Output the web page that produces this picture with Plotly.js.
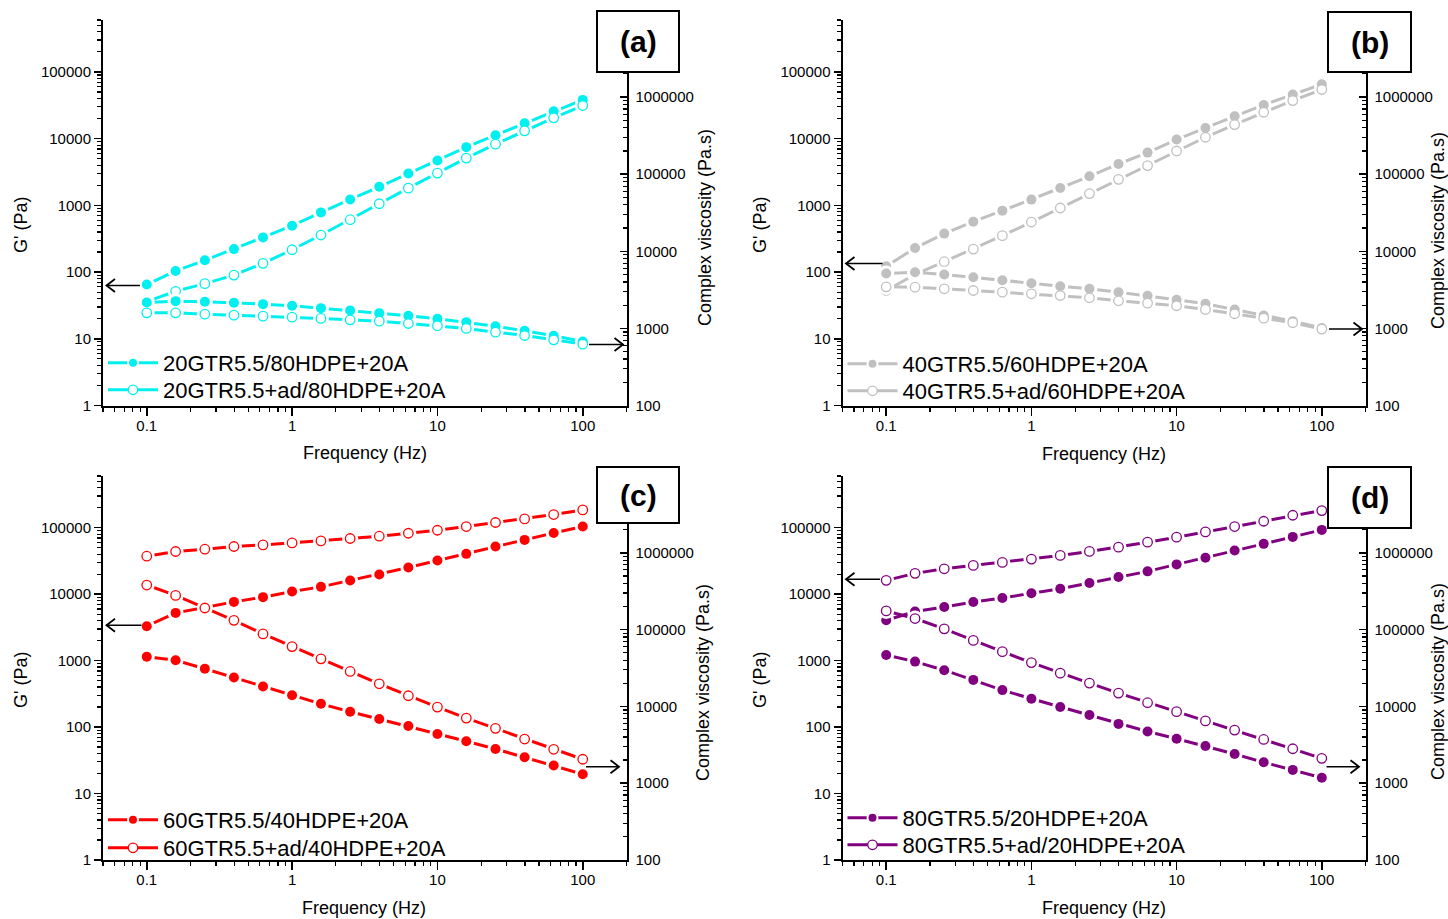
<!DOCTYPE html>
<html>
<head>
<meta charset="utf-8">
<script src="https://cdn.plot.ly/plotly-3.0.1.min.js"></script>
<style>
html,body{margin:0;padding:0;background:#fff;}
#chart{width:1448px;height:919px;}
</style>
</head>
<body>
<div id="chart"></div>
<script>
// ---------------- DATA ----------------
const freq = [0.1, 0.158, 0.251, 0.398, 0.631, 1, 1.58, 2.51, 3.98, 6.31, 10, 15.8, 25.1, 39.8, 63.1, 100];

// (a) 20GTR
const aGf = [65, 104, 150, 221, 331, 495, 784, 1227, 1898, 3006, 4707, 7452, 11270, 17050, 25780, 38100];
const aGo = [36, 51.5, 67, 90, 135, 216, 359, 609, 1057, 1812, 3041, 5104, 8262, 13090, 20480, 31330];
const aVf = [2169, 2258, 2213, 2147, 2064, 1964, 1832, 1708, 1577, 1456, 1331, 1205, 1069, 930, 802, 676];
const aVo = [1592, 1592, 1530, 1486, 1442, 1400, 1346, 1292, 1242, 1158, 1081, 998, 894, 809, 711, 625];

// (b) 40GTR
const bGf = [122, 229, 377, 570, 833, 1219, 1820, 2724, 4170, 6170, 9680, 14450, 21640, 32000, 45700, 65300];
const bGo = [53, 92, 143, 221, 351, 562, 912, 1500, 2455, 3945, 6530, 10480, 16240, 24850, 37200, 54500];
const bVf = [5147, 5350, 5000, 4610, 4215, 3855, 3526, 3263, 2950, 2650, 2350, 2090, 1762, 1473, 1242, 1010];
const bVo = [3462, 3422, 3263, 3102, 2950, 2812, 2673, 2495, 2281, 2125, 1966, 1762, 1549, 1359, 1185, 980];

// (c) 60GTR
const cGf = [3300, 5230, 6310, 7655, 9015, 10980, 12880, 16070, 19780, 25200, 32150, 40400, 52150, 65600, 83500, 104300];
const cGo = [37260, 43850, 47500, 52150, 55100, 59050, 63350, 68800, 74500, 82600, 91600, 104200, 119700, 135600, 157800, 185300];
const cVf = [44200, 39900, 30900, 23800, 18200, 14000, 10800, 8530, 6840, 5550, 4370, 3510, 2790, 2175, 1700, 1310];
const cVo = [380500, 278900, 191200, 132000, 87900, 60100, 41600, 28500, 19700, 13770, 9790, 7050, 5180, 3760, 2765, 2050];

// (d) 80GTR
const dGf = [4060, 5470, 6430, 7640, 8770, 10310, 12080, 14720, 18100, 22050, 28060, 35250, 45500, 57150, 72800, 92700];
const dGo = [16150, 20560, 24100, 27100, 30070, 33700, 38300, 43970, 51000, 60600, 72100, 86500, 104200, 125100, 153900, 181200];
const dVf = [46700, 38300, 29600, 22150, 16300, 12590, 9820, 7740, 5920, 4710, 3790, 3050, 2400, 1870, 1490, 1175];
const dVo = [175000, 139300, 102400, 72300, 51600, 37200, 27100, 20100, 14900, 11170, 8550, 6470, 4910, 3710, 2810, 2105];

const namesA = ['20GTR5.5/80HDPE+20A', '20GTR5.5+ad/80HDPE+20A'];
const namesB = ['40GTR5.5/60HDPE+20A', '40GTR5.5+ad/60HDPE+20A'];
const namesC = ['60GTR5.5/40HDPE+20A', '60GTR5.5+ad/40HDPE+20A'];
const namesD = ['80GTR5.5/20HDPE+20A', '80GTR5.5+ad/20HDPE+20A'];
const panelLabels = ['(a)', '(b)', '(c)', '(d)'];

const xTickVals = [0.1, 1, 10, 100];
const xTickText = ['0.1', '1', '10', '100'];
const gTickVals = [1, 10, 100, 1000, 10000, 100000];
const gTickText = ['1', '10', '100', '1000', '10000', '100000'];
const vTickVals = [100, 1000, 10000, 100000, 1000000];
const vTickText = ['100', '1000', '10000', '100000', '1000000'];

// ---------------- LAYOUT HELPERS ----------------
const W = 1448, H = 919;
const FONT = 'Liberation Sans, Arial, Helvetica, sans-serif';
const px = x => x / W;
const py = y => 1 - y / H;

function minorVals(lo, hi) {
  const out = [];
  for (let e = lo; e <= hi; e++) {
    for (let m = 2; m <= 9; m++) out.push(m * Math.pow(10, e));
  }
  return out;
}

const panels = [
  {gf: aGf, go: aGo, vf: aVf, vo: aVo, names: namesA, color: '#00F0F0',
   xd: [103, 626.5], yd: [20, 405.5], box: [597, 11, 679, 72],
   arrL: [140, 106.5, 285.5], arrR: [589, 623, 344.5],
   leg: [103, 362, 389], tG: [21, 225], tV: [705, 228], tF: [365, 453]},
  {gf: bGf, go: bGo, vf: bVf, vo: bVo, names: namesB, color: '#C0C0C0',
   xd: [842.5, 1365.5], yd: [20, 405.5], box: [1328, 12, 1411, 72],
   arrL: [882.5, 846, 263.5], arrR: [1329, 1362, 329],
   leg: [842.5, 363, 390], tG: [760, 225], tV: [1438, 231], tF: [1104, 454]},
  {gf: cGf, go: cGo, vf: cVf, vo: cVo, names: namesC, color: '#FF0000',
   xd: [103, 626.5], yd: [476, 860], box: [597, 467, 679, 523],
   arrL: [141.5, 106.5, 625.3], arrR: [586, 619, 766.7],
   leg: [103, 819, 847], tG: [21, 680], tV: [703, 683], tF: [364, 908]},
  {gf: dGf, go: dGo, vf: dVf, vo: dVo, names: namesD, color: '#800080',
   xd: [842.5, 1365.5], yd: [476, 860], box: [1328, 467, 1411, 528],
   arrL: [880, 846, 579.3], arrR: [1326.5, 1359, 766.7],
   leg: [842.5, 817, 844], tG: [760, 680], tV: [1438, 682], tF: [1104, 908]}
];

const traces = [];
const layout = {
  width: W, height: H,
  margin: {l: 0, r: 0, t: 0, b: 0},
  paper_bgcolor: '#fff', plot_bgcolor: 'rgba(0,0,0,0)',
  showlegend: true,
  font: {family: FONT, color: '#000', size: 15},
  shapes: [], annotations: []
};

const tickFont = {family: FONT, size: 15, color: '#000'};
const xr = [Math.log10(0.05), Math.log10(200)];

panels.forEach((p, i) => {
  const xb = 2 * i + 1, xt = 2 * i + 2, yl = 2 * i + 1, yr = 2 * i + 2;
  const xdom = [px(p.xd[0]), px(p.xd[1])];
  const ydom = [py(p.yd[1]), py(p.yd[0])];
  const xbName = 'xaxis' + (xb === 1 ? '' : xb), xtName = 'xaxis' + xt;
  const ylName = 'yaxis' + (yl === 1 ? '' : yl), yrName = 'yaxis' + yr;
  const xbRef = 'x' + (xb === 1 ? '' : xb), ylRef = 'y' + (yl === 1 ? '' : yl), yrRef = 'y' + yr;
  const common = {showgrid: false, zeroline: false, showline: true, linecolor: '#000', linewidth: 2,
    tickcolor: '#000', tickwidth: 1.5, tickfont: tickFont};

  layout[xbName] = Object.assign({}, common, {
    type: 'log', domain: xdom, anchor: ylRef, range: xr,
    tickmode: 'array', tickvals: xTickVals, ticktext: xTickText,
    ticks: 'outside', ticklen: 8, ticklabelstandoff: -3,
    minor: {ticks: 'outside', ticklen: 4, tickwidth: 1.2, tickcolor: '#000', tickmode: 'array', tickvals: minorVals(-2, 2), showgrid: false}
  });
  layout[xtName] = Object.assign({}, common, {
    type: 'log', overlaying: xbRef, side: 'top', anchor: ylRef, range: xr,
    tickmode: 'array', tickvals: xTickVals, showticklabels: false,
    ticks: 'inside', ticklen: 8,
    minor: {ticks: 'inside', ticklen: 4, tickwidth: 1.2, tickcolor: '#000', tickmode: 'array', tickvals: minorVals(-2, 2), showgrid: false}
  });
  layout[ylName] = Object.assign({}, common, {
    type: 'log', domain: ydom, anchor: xbRef, range: [0, Math.log10(600000)],
    tickmode: 'array', tickvals: gTickVals, ticktext: gTickText,
    ticks: 'outside', ticklen: 7,
    minor: {ticks: 'outside', ticklen: 4, tickwidth: 1.2, tickcolor: '#000', tickmode: 'array', tickvals: minorVals(0, 5), showgrid: false}
  });
  layout[yrName] = Object.assign({}, common, {
    type: 'log', overlaying: ylRef, side: 'right', anchor: xbRef, range: [2, 7],
    tickmode: 'array', tickvals: vTickVals, ticktext: vTickText,
    ticks: 'inside', ticklen: 7, ticklabelstandoff: 4,
    minor: {ticks: 'inside', ticklen: 4, tickwidth: 1.2, tickcolor: '#000', tickmode: 'array', tickvals: minorVals(2, 6), showgrid: false}
  });

  const series = [
    {y: p.gf, yref: ylRef, filled: true},
    {y: p.go, yref: ylRef, filled: false},
    {y: p.vf, yref: yrRef, filled: true},
    {y: p.vo, yref: yrRef, filled: false}
  ];
  // lines with white gaps around points
  series.forEach(s => {
    traces.push({
      x: freq, y: s.y, xaxis: xbRef, yaxis: s.yref, type: 'scatter', mode: 'lines+markers',
      line: {color: p.color, width: 3},
      marker: {symbol: 'circle', size: 16, color: '#fff', line: {width: 0}},
      showlegend: false, hoverinfo: 'skip'
    });
  });
  // markers
  series.forEach(s => {
    traces.push({
      x: freq, y: s.y, xaxis: xbRef, yaxis: s.yref, type: 'scatter', mode: 'markers',
      marker: {symbol: 'circle', size: s.filled ? 10 : 9.5, color: s.filled ? p.color : '#fff',
               line: {color: p.color, width: s.filled ? 0 : 1.3}},
      showlegend: false
    });
  });
  // legend entries (one legend per entry for exact row placement)
  [true, false].forEach((filled, k) => {
    const legName = 'legend' + ((2 * i + k) === 0 ? '' : (2 * i + k + 1));
    layout[legName] = {
      x: px(p.leg[0]), y: py(p.leg[1 + k] - 20), xanchor: 'left', yanchor: 'top',
      bgcolor: 'rgba(0,0,0,0)', borderwidth: 0,
      font: {family: FONT, size: 22, color: '#000'},
      itemwidth: 50, tracegroupgap: 0
    };
    traces.push({
      x: [null], y: [null], xaxis: xbRef, yaxis: ylRef, type: 'scatter', mode: 'lines+markers',
      name: p.names[k], legend: legName,
      line: {color: p.color, width: 3},
      marker: {symbol: 'circle', size: filled ? 10 : 9.5, color: filled ? p.color : '#fff',
               line: {color: filled ? '#fff' : p.color, width: filled ? 2 : 1.3}}
    });
  });

  // arrows
  const arrow = (x1, x2, y) => {
    const dir = x2 < x1 ? 1 : -1;
    layout.shapes.push({type: 'line', xref: 'paper', yref: 'paper', x0: px(x1), x1: px(x2), y0: py(y), y1: py(y),
      line: {color: '#000', width: 1.6}, layer: 'above'});
    layout.shapes.push({type: 'path', xref: 'paper', yref: 'paper', layer: 'above',
      path: 'M' + px(x2 + dir * 8.5) + ',' + py(y - 6.5) + ' L' + px(x2) + ',' + py(y) + ' L' + px(x2 + dir * 8.5) + ',' + py(y + 6.5),
      line: {color: '#000', width: 1.8}});
  };
  arrow(p.arrL[0], p.arrL[1], p.arrL[2]);
  arrow(p.arrR[0], p.arrR[1], p.arrR[2]);

  // label box
  layout.shapes.push({type: 'rect', xref: 'paper', yref: 'paper', layer: 'above',
    x0: px(p.box[0]), x1: px(p.box[2]), y0: py(p.box[3]), y1: py(p.box[1]),
    fillcolor: '#fff', line: {color: '#000', width: 2}});
  layout.annotations.push({xref: 'paper', yref: 'paper', x: px((p.box[0] + p.box[2]) / 2), y: py((p.box[1] + p.box[3]) / 2),
    text: '<b>' + panelLabels[i] + '</b>', showarrow: false, xanchor: 'center', yanchor: 'middle',
    font: {family: FONT, size: 30, color: '#000'}});

  // axis titles
  layout.annotations.push({xref: 'paper', yref: 'paper', x: px(p.tG[0]), y: py(p.tG[1]), text: "G' (Pa)",
    textangle: -90, showarrow: false, xanchor: 'center', yanchor: 'middle', font: {family: FONT, size: 18, color: '#000'}});
  layout.annotations.push({xref: 'paper', yref: 'paper', x: px(p.tV[0]), y: py(p.tV[1]), text: 'Complex viscosity (Pa.s)',
    textangle: -90, showarrow: false, xanchor: 'center', yanchor: 'middle', font: {family: FONT, size: 18, color: '#000'}});
  layout.annotations.push({xref: 'paper', yref: 'paper', x: px(p.tF[0]), y: py(p.tF[1]), text: 'Frequency (Hz)',
    showarrow: false, xanchor: 'center', yanchor: 'middle', font: {family: FONT, size: 18, color: '#000'}});
});

Plotly.newPlot('chart', traces, layout, {staticPlot: true, displayModeBar: false});
</script>
</body>
</html>
